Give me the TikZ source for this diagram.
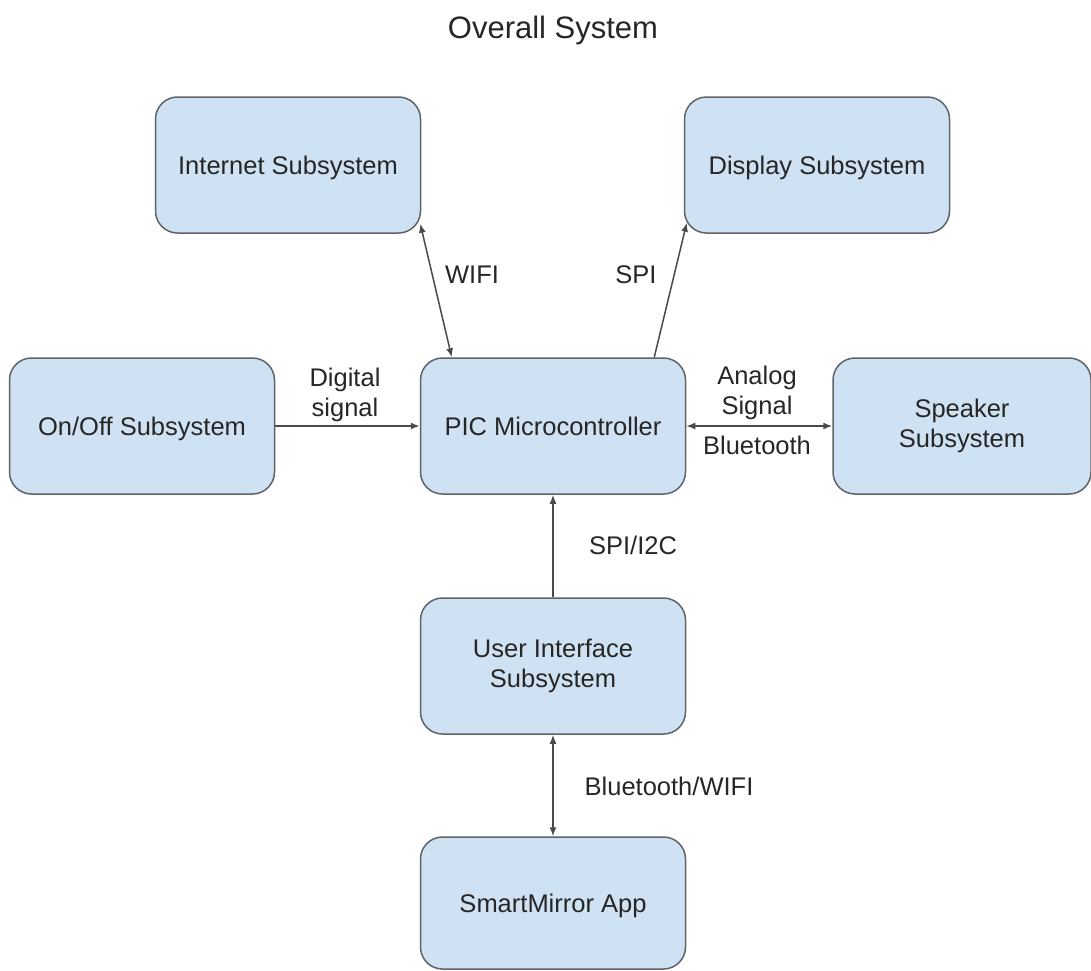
\documentclass[tikz,border=0pt]{standalone}
\usepackage{fontspec}
\setmainfont{Liberation Sans}
\usetikzlibrary{arrows.meta, positioning}
\definecolor{boxfill}{HTML}{CFE2F3}
\definecolor{boxline}{HTML}{5F6368}
\definecolor{wire}{HTML}{4A4A4A}
\definecolor{ink}{HTML}{262626}

\begin{document}
\begin{tikzpicture}[x=1pt,y=-1pt,
    font=\fontsize{25.5}{30.5}\selectfont, text=ink,
    subsys/.style={draw=boxline, line width=1.5pt, fill=boxfill,
      rounded corners=22pt, minimum width=265pt, minimum height=136pt,
      inner sep=0pt, align=center},
    oneline/.style={text height=18.4pt, text depth=0pt},
    link/.style={draw=wire, line width=1.5pt,
      -{Latex[length=9pt,width=7pt]}},
    both/.style={link, {Latex[length=9pt,width=7pt]}-{Latex[length=9pt,width=7pt]}},
    lbl/.style={align=center, inner sep=0pt}
  ]
  \useasboundingbox (0,0) rectangle (1091,970);

  \node[anchor=base] (title) at (553,38) {\fontsize{31}{37}\selectfont Overall System};

  \node[subsys, oneline] (inet) at (288,165) {Internet Subsystem};
  \node[subsys, oneline] (disp) at (817,165) {Display Subsystem};
  \node[subsys, oneline] (onoff) at (142,426) {On/Off Subsystem};
  \node[subsys, oneline] (pic) at (553,426) {PIC Microcontroller};
  \node[subsys, minimum width=258pt] (spk) at (962,426) {Speaker\\Subsystem};
  \node[subsys] (ui) at (553,666) {User Interface\\Subsystem};
  \node[subsys, oneline, minimum height=132pt] (app) at (553,903) {SmartMirror App};

  % connectors
  \draw[both] ([xshift=-1pt,yshift=10pt]inet.south east) -- ([xshift=32pt]pic.north west);
  \draw[link] ([xshift=-32pt]pic.north east) -- ([xshift=3pt,yshift=11pt]disp.south west);
  \draw[link] (onoff.east) -- (pic.west);
  \draw[both] (pic.east) -- (spk.west);
  \draw[link] (ui.north) -- (pic.south);
  \draw[both] (ui.south) -- (app.north);

  % labels
  \node[lbl] (lwifi) at (472,275) {WIFI};
  \node[lbl] (lspi) at (636,275) {SPI};
  \node[lbl] (ldig) at (345,395) {Digital\\signal};
  \node[lbl] (lana) at (757,393) {Analog\\Signal};
  \node[lbl] (lbt) at (757,445) {Bluetooth};
  \node[lbl] (li2c) at (633,545) {SPI/I2C};
  \node[lbl] (lbtw) at (669,786) {Bluetooth/WIFI};
\end{tikzpicture}
\end{document}
